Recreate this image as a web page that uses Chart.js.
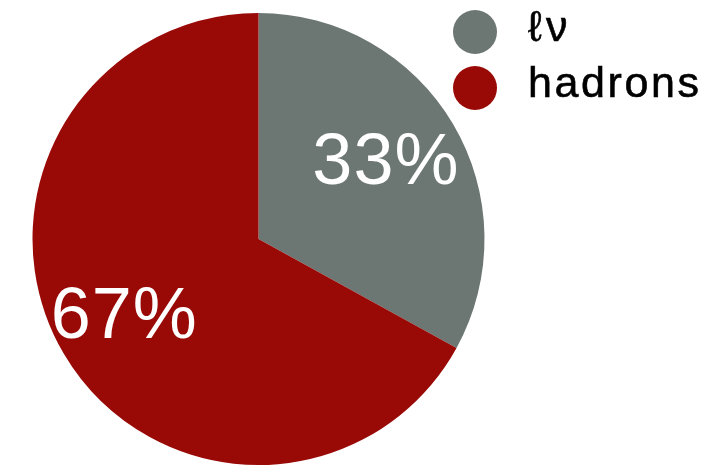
<!DOCTYPE html>
<html>
<head>
<meta charset="utf-8">
<title>Decay modes</title>
<script src="https://cdn.jsdelivr.net/npm/chart.js@4"></script>
<style>
  html, body { margin: 0; padding: 0; background: #fff; }
  #wrap { width: 728px; height: 468px; }
</style>
</head>
<body>
<div id="wrap"><canvas id="myChart"></canvas></div>
<script>
// decay fractions in percent
var modes = ['ℓν', 'hadrons'];
var shares = [33, 67];
var colours = ['#6c7672', '#990a07'];

var fontName = '"Liberation Sans", Arial, Helvetica, sans-serif';

// percent labels inside each slice
var sliceLabels = {
  id: 'sliceLabels',
  afterDatasetsDraw(chart, args, opts) {
    let ctx = chart.ctx;
    let arcs = chart.getDatasetMeta(0).data;
    ctx.save();
    ctx.fillStyle = '#fff';
    ctx.font = '72px ' + fontName;
    ctx.textAlign = 'center';
    ctx.textBaseline = 'middle';
    ctx.letterSpacing = '1px';
    arcs.forEach(function (arc, i) {
      let p = arc.getProps(['x', 'y', 'startAngle', 'endAngle', 'outerRadius'], true);
      let mid = (p.startAngle + p.endAngle) / 2;
      let r = p.outerRadius * opts.dist[i];
      ctx.fillText(shares[i] + '%', p.x + Math.cos(mid) * r, p.y + Math.sin(mid) * r);
    });
    ctx.restore();
  }
};

// legend in the top right corner, circles + names
var sideLegend = {
  id: 'sideLegend',
  afterDraw(chart, args, opts) {
    let ctx = chart.ctx;
    ctx.save();
    ctx.font = '43px ' + fontName;
    ctx.textBaseline = 'alphabetic';
    ctx.textAlign = 'left';
    modes.forEach(function (m, i) {
      let y = opts.top + i * opts.step;
      ctx.beginPath();
      ctx.arc(opts.left, y, 22, 0, Math.PI * 2);
      ctx.fillStyle = colours[i];
      ctx.fill();
      ctx.fillStyle = '#000';
      ctx.strokeStyle = '#000';
      ctx.lineWidth = 0.6;
      ctx.letterSpacing = i == 0 ? '4px' : '2.6px';
      ctx.fillText(m, opts.left + 53, y + 9);
      ctx.strokeText(m, opts.left + 53, y + 9);
    });
    ctx.restore();
  }
};

const ctx = document.getElementById('myChart');
new Chart(ctx, {
  type: 'pie',
  data: {
    labels: modes,
    datasets: [{
      data: shares,
      backgroundColor: colours,
      borderWidth: 0
    }]
  },
  options: {
    responsive: true,
    maintainAspectRatio: false,
    animation: false,
    layout: { padding: { left: 32, top: 13, right: 243, bottom: 3 } },
    plugins: {
      legend: { display: false },
      tooltip: { enabled: false },
      sliceLabels: { dist: [0.655, 0.69] },
      sideLegend: { left: 475, top: 32, step: 56 }
    }
  },
  plugins: [sliceLabels, sideLegend]
});
</script>
</body>
</html>
